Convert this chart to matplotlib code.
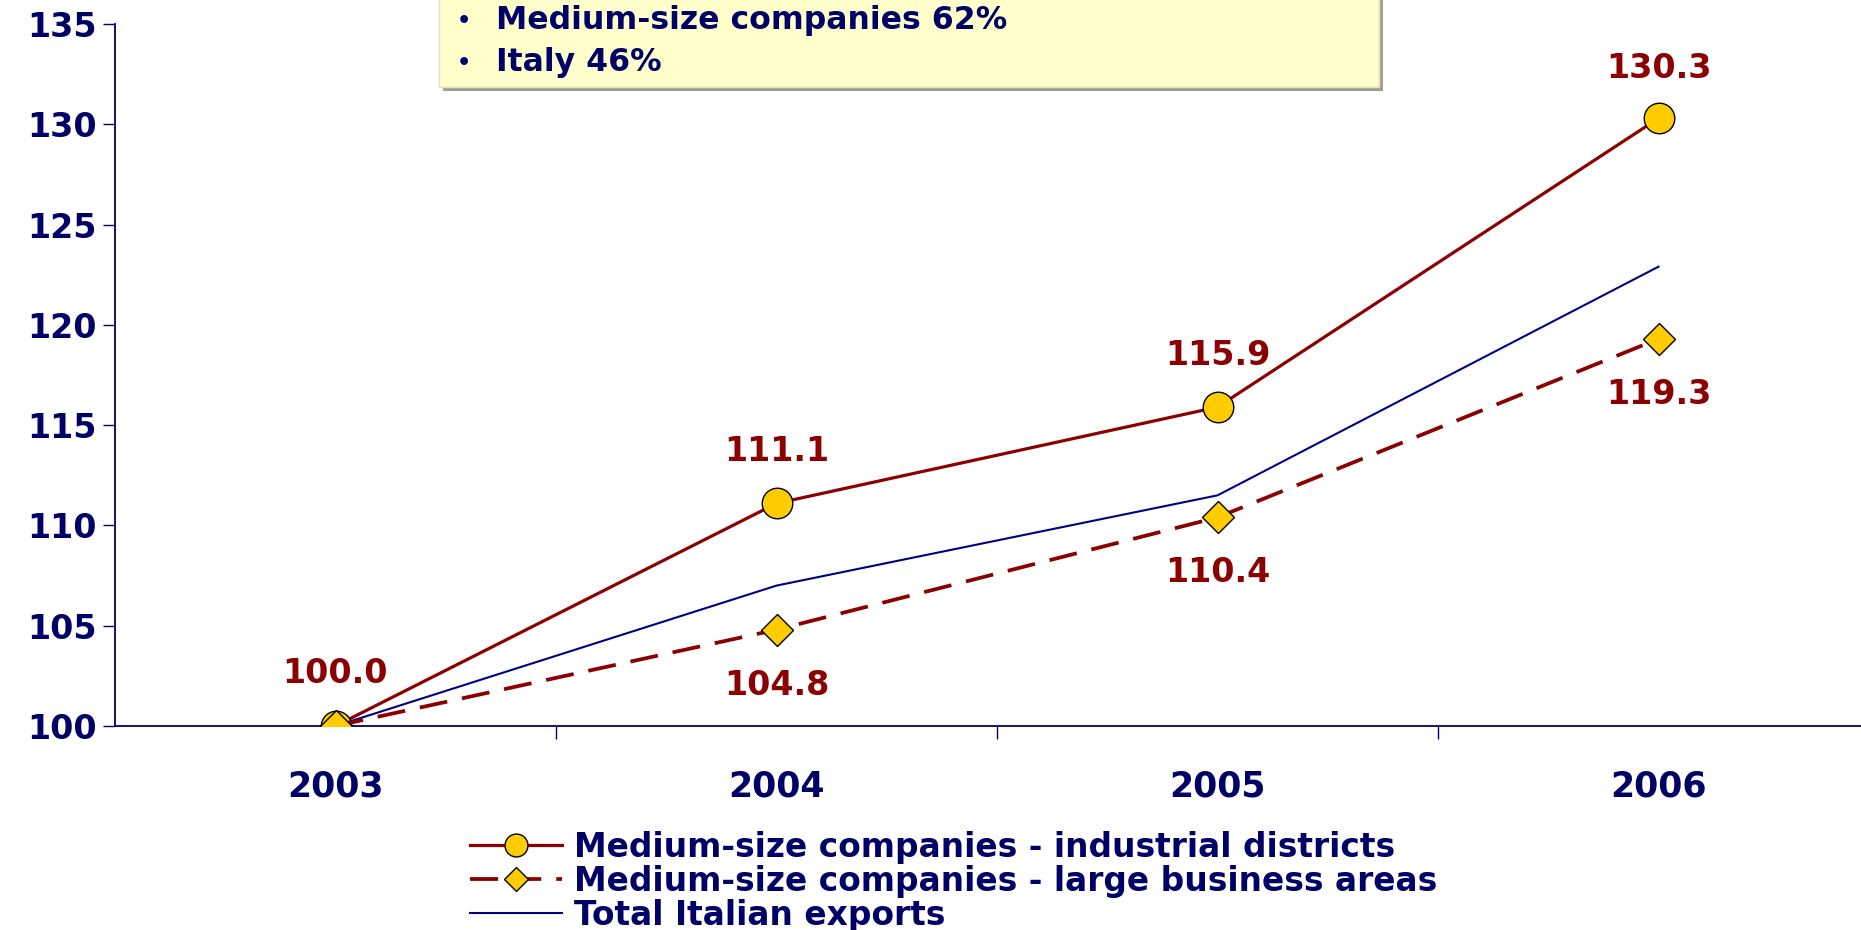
import matplotlib
matplotlib.use("Agg")
import matplotlib.pyplot as plt
from matplotlib.patches import Rectangle
from matplotlib.ticker import FixedLocator, NullFormatter

years = ["2003", "2004", "2005", "2006"]
districts = [100.0, 111.1, 115.9, 130.3]
large_areas = [100.0, 104.8, 110.4, 119.3]
italy_total = [100.0, 107.0, 111.5, 122.9]
yticks = [100, 105, 110, 115, 120, 125, 130, 135]
box_lines = ["Medium-size companies 62%", "Italy 46%"]
legend_labels = ["Medium-size companies - industrial districts",
                 "Medium-size companies - large business areas",
                 "Total Italian exports"]

NAVY = "#000066"
RED = "#8B0000"
GOLD = "#FFCC00"

plt.rcParams['font.family'] = ['DejaVu Sans']
W, H = 1861, 930
fig = plt.figure(figsize=(W / 100, H / 100), dpi=100)
ax = fig.add_axes([115 / W, (H - 726) / H, (1879 - 115) / W, (726 - 24) / H])

x = list(range(len(years)))
l1, = ax.plot(x, districts, color=RED, lw=2.3, marker='o', ms=22,
              mfc=GOLD, mec='black', mew=1.0, zorder=3)
l2, = ax.plot(x, large_areas, color=RED, lw=2.7, linestyle=(0, (7.5, 4)),
              marker='D', ms=16, mfc=GOLD, mec='black', mew=1.0, zorder=4)
l3, = ax.plot(x, italy_total, color="#000080", lw=1.5, zorder=3.5)

for xi, v in zip(x, districts):
    off = 36 if v > 125 else 37.5
    ax.annotate(f"{v:.1f}", (xi, v), xytext=(0, off), textcoords='offset points',
                ha='center', va='center', color=RED, fontsize=24, fontweight='bold')
for xi, v in zip(x[1:], large_areas[1:]):
    ax.annotate(f"{v:.1f}", (xi, v), xytext=(0, -40), textcoords='offset points',
                ha='center', va='center', color=RED, fontsize=24, fontweight='bold')

ax.set_xlim(-0.5, 3.5)
ax.set_ylim(100, 135)
ax.set_yticks(yticks)
ax.set_yticklabels([str(t) for t in yticks])
ax.set_xticks(x)
ax.set_xticklabels(years)
ax.xaxis.set_minor_locator(FixedLocator([0.5, 1.5, 2.5]))
ax.xaxis.set_minor_formatter(NullFormatter())
ax.tick_params(axis='x', which='major', length=0, pad=31, labelsize=25,
               labelcolor=NAVY)
ax.tick_params(axis='x', which='minor', length=9, width=1.0, color=NAVY,
               direction='out')
ax.tick_params(axis='y', length=9, width=1.0, color=NAVY, pad=4,
               labelsize=24, labelcolor=NAVY)
for lab in ax.get_xticklabels() + ax.get_yticklabels():
    lab.set_fontweight('bold')
for s in ['top', 'right']:
    ax.spines[s].set_visible(False)
for s in ['left', 'bottom']:
    ax.spines[s].set_color(NAVY)
    ax.spines[s].set_linewidth(1.3)
ax.patch.set_visible(False)

leg = fig.legend([l1, l2, l3], legend_labels, loc='upper left',
                 bbox_to_anchor=(470 / W, (H - 831) / H), frameon=False,
                 handlelength=2.8, handletextpad=0.35, markerscale=0.75,
                 labelspacing=0.03, borderpad=0, borderaxespad=0,
                 prop={'weight': 'bold', 'size': 23.7})
for t in leg.get_texts():
    t.set_color(NAVY)

# annotation box at top
bx0, bx1, by0 = 439, 1379, 87
fig.patches.append(Rectangle((bx0 / W + 4 / W, (H - by0 - 4) / H),
                             (bx1 - bx0) / W, 0.2, transform=fig.transFigure,
                             facecolor="#A0A08C", edgecolor='none', zorder=0))
fig.patches.append(Rectangle((bx0 / W, (H - by0) / H), (bx1 - bx0) / W, 0.2,
                             transform=fig.transFigure, facecolor="#FFFFCC",
                             edgecolor="#E0E0C0", lw=1, zorder=1))
for yy, txt in zip([21, 63], box_lines):
    fig.text(457 / W, (H - yy) / H, "•", color=NAVY, fontsize=16,
             fontweight='bold', ha='left', va='center')
    fig.text(496 / W, (H - yy) / H, txt, color=NAVY, fontsize=22.7,
             fontweight='bold', ha='left', va='center')

fig.savefig("out.png", dpi=100)
